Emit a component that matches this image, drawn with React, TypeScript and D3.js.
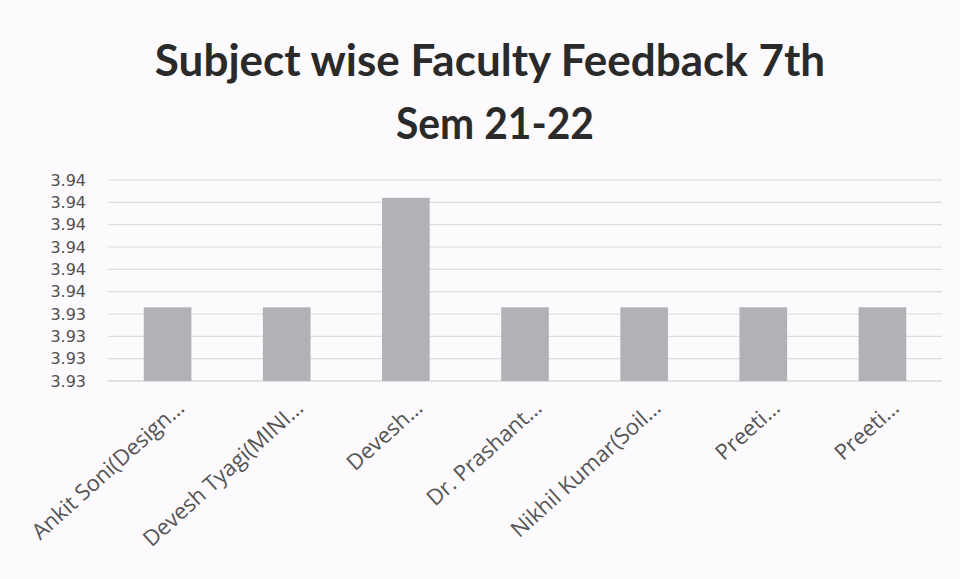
import React from "react";
import * as d3 from "d3";

const categories = [
  "Ankit Soni(Design\u2026",
  "Devesh Tyagi(MINI\u2026",
  "Devesh\u2026",
  "Dr. Prashant\u2026",
  "Nikhil Kumar(Soil\u2026",
  "Preeti\u2026",
  "Preeti\u2026",
];
const scores = [3.9343, 3.9343, 3.9392, 3.9343, 3.9343, 3.9343, 3.9343];
const yTickValues = [3.931, 3.932, 3.933, 3.934, 3.935, 3.936, 3.937, 3.938, 3.939, 3.94];
const yTickLabels = ["3.93", "3.93", "3.93", "3.93", "3.94", "3.94", "3.94", "3.94", "3.94", "3.94"];
const titleLines = ["Subject wise Faculty Feedback 7th", "Sem 21-22"];

const W = 960;
const H = 579;
const plot = { left: 108, right: 942, top: 180, bottom: 381 };

export default function App() {
  const x = d3
    .scaleBand<number>()
    .domain(d3.range(categories.length))
    .range([plot.left, plot.right])
    .paddingInner(0.6)
    .paddingOuter(0.3);
  const y = d3
    .scaleLinear()
    .domain([yTickValues[0], yTickValues[yTickValues.length - 1]])
    .range([plot.bottom, plot.top]);

  return (
    <svg
      width={W}
      height={H}
      style={{ position: "absolute", left: 0, top: 0, display: "block" }}
    >
      <rect x={0} y={0} width={W} height={H} fill="#fcfafc" />
      <text
        x={490}
        y={76}
        textAnchor="middle"
        fontFamily="Lato, 'Open Sans', sans-serif"
        fontWeight={700}
        fontSize={44}
        fill="#2a2a2a"
      >
        {titleLines[0]}
      </text>
      <text
        x={495}
        y={139}
        textAnchor="middle"
        textLength={198}
        lengthAdjust="spacingAndGlyphs"
        fontFamily="Lato, 'Open Sans', sans-serif"
        fontWeight={700}
        fontSize={44}
        fill="#2a2a2a"
      >
        {titleLines[1]}
      </text>
      {yTickValues.map((v, i) => (
        <line
          key={"gl" + i}
          x1={plot.left}
          x2={plot.right}
          y1={y(v)}
          y2={y(v)}
          stroke={i === 0 ? "#c8c8c8" : "#dcdcdc"}
          strokeWidth={1.2}
        />
      ))}
      {yTickValues.map((v, i) => (
        <text
          key={"yt" + i}
          x={86}
          y={y(v)}
          dy="0.36em"
          textAnchor="end"
          fontFamily="'DejaVu Sans', sans-serif"
          fontSize={16}
          fill="#505050"
        >
          {yTickLabels[i]}
        </text>
      ))}
      {scores.map((v, i) => (
        <rect
          key={"b" + i}
          x={x(i)!}
          y={y(v)}
          width={x.bandwidth()}
          height={plot.bottom - y(v)}
          fill="#b3b1b6"
        />
      ))}
      {categories.map((c, i) => {
        const cx = x(i)! + x.bandwidth() / 2 + 13;
        const cy = 404;
        return (
          <text
            key={"l" + i}
            x={cx}
            y={cy}
            dy="0.35em"
            textAnchor="end"
            transform={`rotate(-42 ${cx} ${cy})`}
            fontFamily="'Open Sans', sans-serif"
            fontSize={22}
            fill="#555555"
          >
            {c}
          </text>
        );
      })}
    </svg>
  );
}
